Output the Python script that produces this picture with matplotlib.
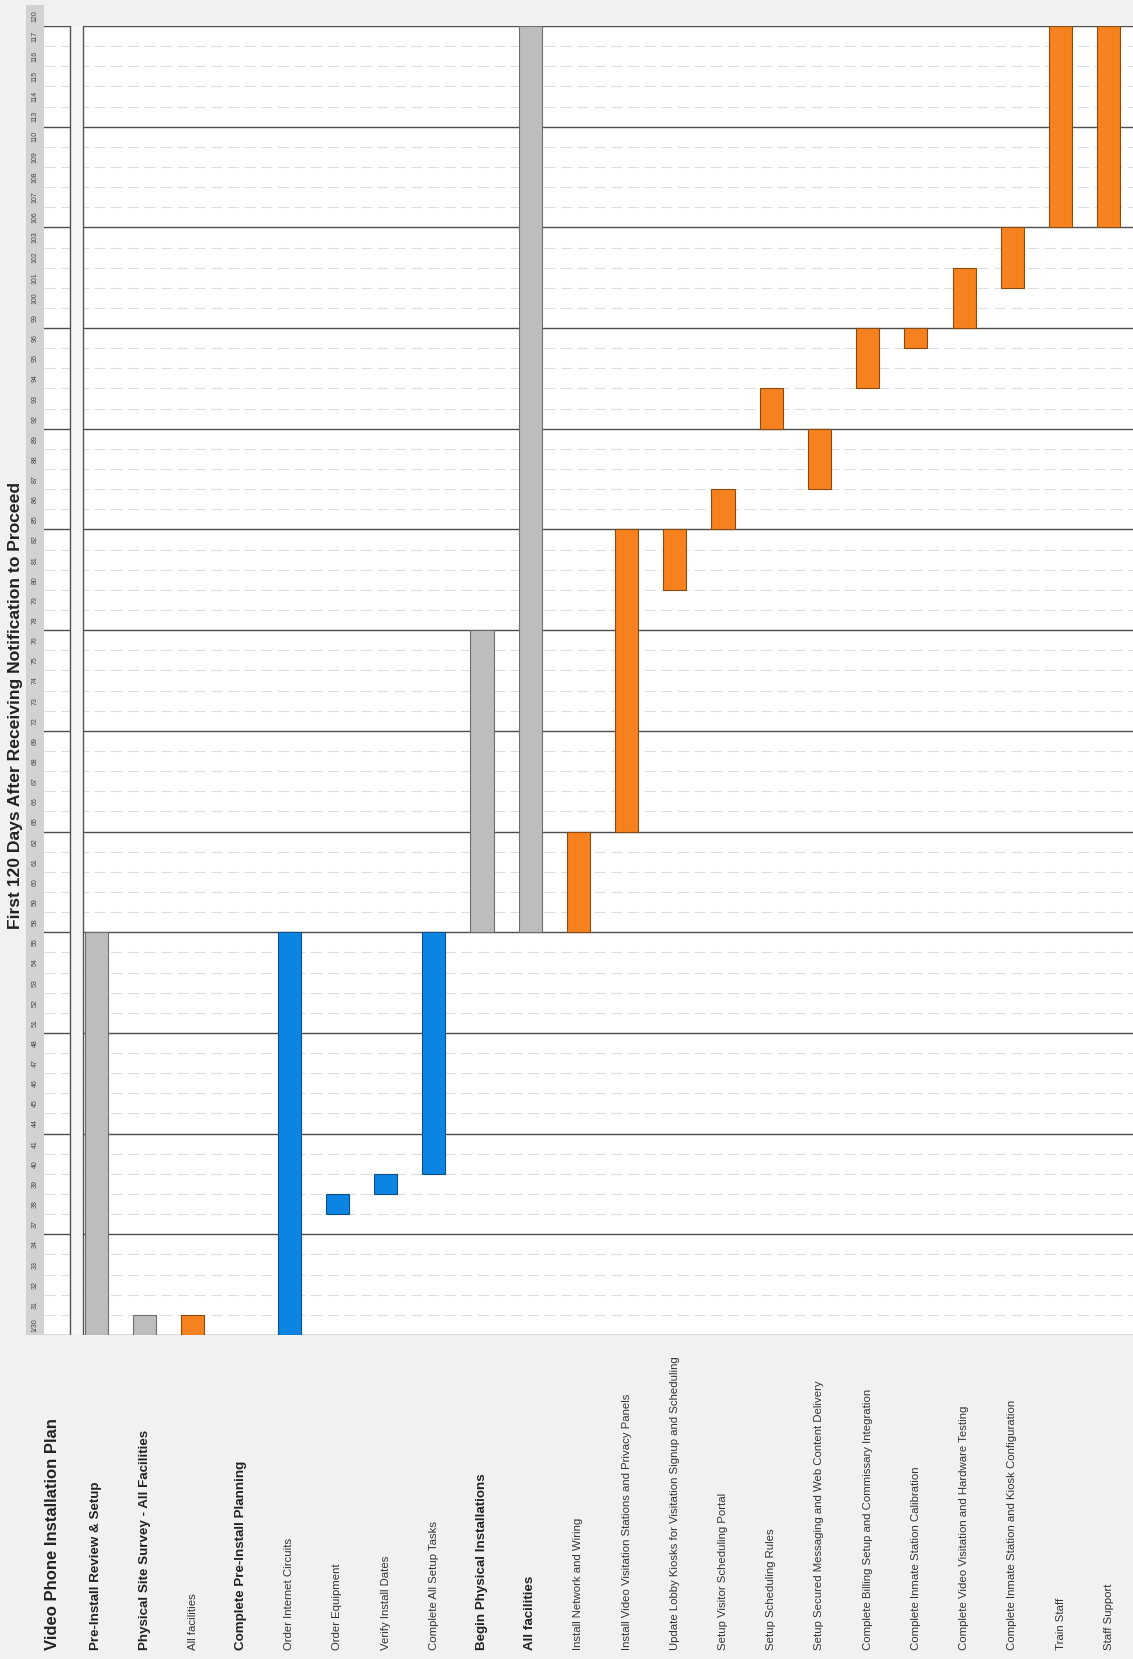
import matplotlib.pyplot as plt
import matplotlib.transforms as mtransforms
from matplotlib.patches import Rectangle

plt.rcParams['font.family'] = ['Liberation Sans', 'DejaVu Sans']

# tasks, left to right (the chart is laid out rotated: time runs upward)
tasks = ['Video Phone Installation Plan',
         'Pre-Install Review & Setup',
         'Physical Site Survey - All Facilities',
         'All facilities',
         'Complete Pre-Install Planning',
         'Order Internet Circuits',
         'Order Equipment',
         'Verify Install Dates',
         'Complete All Setup Tasks',
         'Begin Physical Installations',
         'All facilities',
         'Install Network and Wiring',
         'Install Video Visitation Stations and Privacy Panels',
         'Update Lobby Kiosks for Visitation Signup and Scheduling',
         'Setup Visitor Scheduling Portal',
         'Setup Scheduling Rules',
         'Setup Secured Messaging and Web Content Delivery',
         'Complete Billing Setup and Commissary Integration',
         'Complete Inmate Station Calibration',
         'Complete Video Visitation and Hardware Testing',
         'Complete Inmate Station and Kiosk Configuration',
         'Train Staff',
         'Staff Support']
bold_tasks = [1, 2, 4, 9, 10]

# start / end in working-day cells, None = no bar
starts = [None, 0, 0, 0, None, 0, 6, 7, 8, 20, 20, 20, 25, 37, 40, 45, 42, 47, 49, 50, 52, 55, 55]
ends = [None, 20, 1, 1, None, 20, 7, 8, 20, 35, 65, 25, 40, 40, 42, 47, 45, 50, 50, 53, 55, 65, 65]
kinds = [None, 'summary', 'summary', 'task', None, 'prep', 'prep', 'prep', 'prep',
         'summary', 'summary', 'task', 'task', 'task', 'task', 'task', 'task', 'task',
         'task', 'task', 'task', 'task', 'task']

day_labels = ['1/30', '31', '32', '33', '34',
              '37', '38', '39', '40', '41',
              '44', '45', '46', '47', '48',
              '51', '52', '53', '54', '55',
              '58', '59', '60', '61', '62',
              '65', '66', '67', '68', '69',
              '72', '73', '74', '75', '76',
              '78', '79', '80', '81', '82',
              '85', '86', '87', '88', '89',
              '92', '93', '94', '95', '96',
              '99', '100', '101', '102', '103',
              '106', '107', '108', '109', '110',
              '113', '114', '115', '116', '117',
              '120']

colours = {'summary': '#bdbdbd', 'task': '#f5821f', 'prep': '#0c85e2'}
edges = {'summary': '#6e6e6e', 'task': '#8a4a10', 'prep': '#0a4f8a'}

W, H = 1133, 1659
fig = plt.figure(figsize=(W / 100, H / 100), dpi=100)
fig.patch.set_facecolor('#f1f1f1')

px_left, px_right, px_top, px_bot = 44, 1133, 26, 1335
ax = fig.add_axes([px_left / W, 1 - px_bot / H, (px_right - px_left) / W, (px_bot - px_top) / H])
ax.set_facecolor('white')
n_days = 65
step = 48.21
x0 = 48.1
ax.set_xlim((px_left - x0) / step, (px_right - x0) / step)
ax.set_ylim(0, n_days)
for s in ax.spines.values():
    s.set_visible(False)
ax.set_xticks([])
ax.set_yticks([])

# grid: solid line each week, faint dashes each day
for d in range(n_days + 1):
    if d % 5 == 0:
        ax.axhline(d, color='#4d4d4d', lw=1.0, zorder=1)
    else:
        ax.axhline(d, color='#dedede', lw=0.8, ls=(0, (10, 5)), zorder=1)

# narrow spacer column on the left
ax.axvspan(0.45, 0.72, color='#f6f6f6', zorder=2, lw=0)
ax.axvline(0.45, color='#555555', lw=1.0, zorder=2)
ax.axvline(0.72, color='#555555', lw=1.0, zorder=2)

for i, (st, en, k) in enumerate(zip(starts, ends, kinds)):
    if st is None:
        continue
    ax.bar(i, en - st, bottom=st, width=0.48, color=colours[k],
           edgecolor=edges[k], linewidth=0.8, zorder=3)

# task labels, rotated, below the chart
lab_tr = mtransforms.blended_transform_factory(ax.transData, fig.transFigure)
for i, name in enumerate(tasks):
    if i == 0:
        ax.text(0.1, 9 / H, name, transform=lab_tr, rotation=90, ha='center',
                va='bottom', fontsize=12, fontweight='bold', color='#222222')
    elif i in bold_tasks:
        ax.text(i, 9 / H, name, transform=lab_tr, rotation=90, ha='center',
                va='bottom', fontsize=9.6, fontweight='bold', color='#222222')
    else:
        ax.text(i, 9 / H, name, transform=lab_tr, rotation=90, ha='center',
                va='bottom', fontsize=8.2, color='#333333')

# day strip on the far left
strip = Rectangle((26 / W, 1 - px_bot / H), 18 / W, (px_bot - 5) / H,
                  transform=fig.transFigure, facecolor='#d2d2d2',
                  edgecolor='none', zorder=0, clip_on=False)
ax.add_artist(strip)
day_tr = mtransforms.blended_transform_factory(fig.transFigure, ax.transData)
for d, lab in enumerate(day_labels):
    ax.text(35 / W, d + 0.5, lab, transform=day_tr, rotation=90, ha='center',
            va='center', fontsize=5, color='#444444', clip_on=False, zorder=5)

fig.text(16 / W, 1 - 705 / H, 'First 120 Days After Receiving Notification to Proceed',
         rotation=90, ha='center', va='center', fontsize=12.6, fontweight='bold',
         color='#222222')

fig.savefig('out.png', dpi=100, facecolor=fig.get_facecolor())
